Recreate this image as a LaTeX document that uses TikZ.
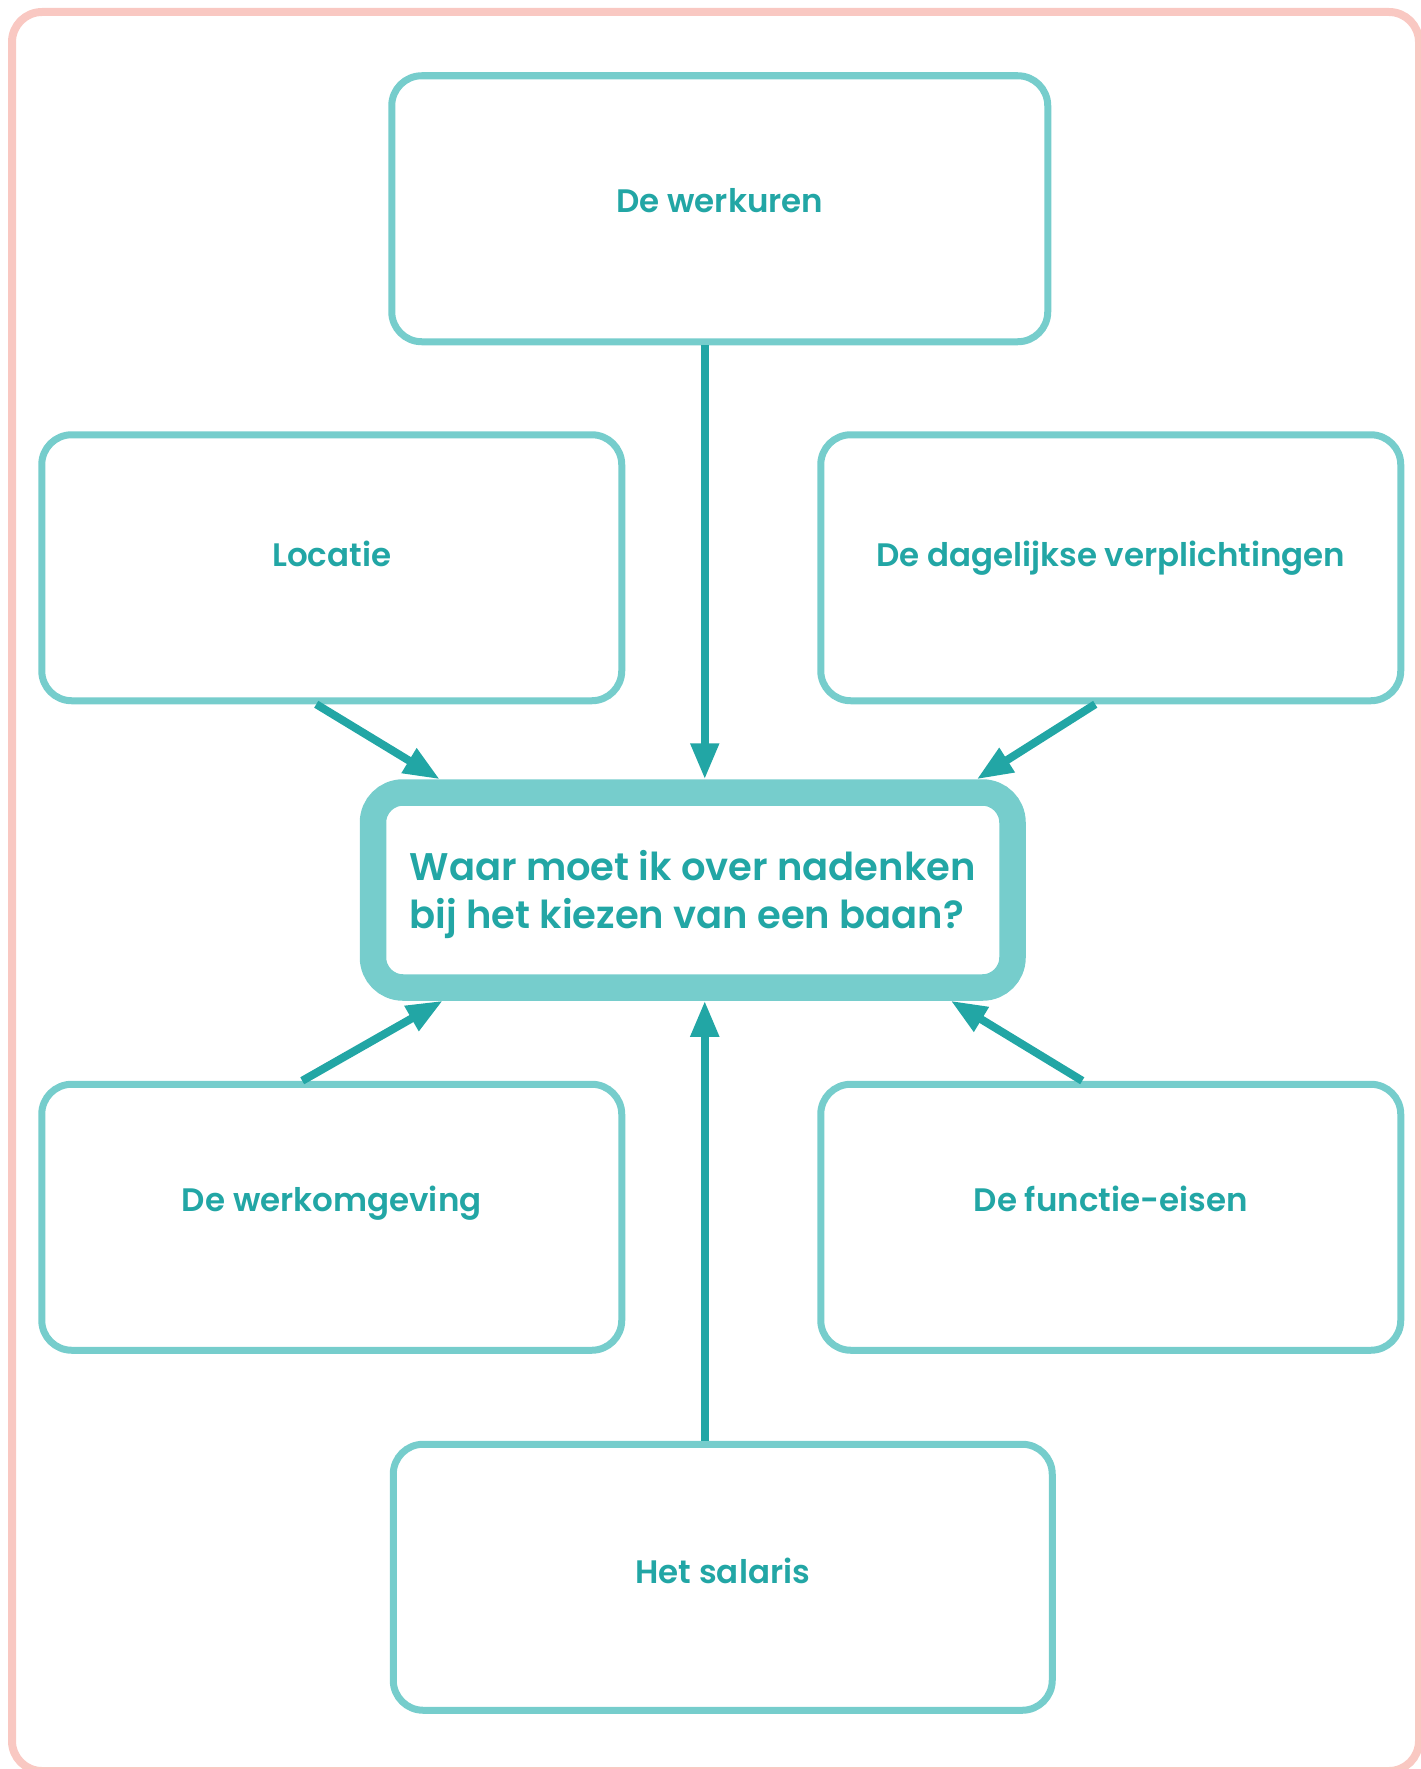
\documentclass[tikz,border=0pt]{standalone}
\usepackage{fontspec}
\setmainfont{Poppins}[BoldFont={Poppins SemiBold}]
\usetikzlibrary{arrows.meta}
\usetikzlibrary{positioning}
\definecolor{boxline}{HTML}{76CDCC}
\definecolor{tealdark}{HTML}{22A6A5}
\definecolor{framepink}{HTML}{F9C8C2}
\tikzset{
    topic/.style={
           rectangle,
           rounded corners=30pt,
           draw=boxline, line width=7pt,
           minimum width=580pt,
           minimum height=266pt,
           text=tealdark,
           font=\bfseries\fontsize{32.5}{38}\selectfont,
           text height=23pt, text depth=25pt,
           },
    question/.style={
           rectangle,
           rounded corners=30pt,
           draw=boxline, line width=26.5pt,
           minimum width=639.5pt,
           minimum height=195pt,
           text=tealdark, align=left,
           font=\bfseries\fontsize{38.5}{48}\selectfont,
           },
    link/.style={->, color=tealdark, line width=8pt},
}
\begin{document}
\begin{tikzpicture}[x=1pt,y=-1pt,>={Triangle[length=36pt,width=27pt]}]
	\useasboundingbox (0,0) rectangle (1421,1769);
	\draw[framepink, line width=8pt, rounded corners=30pt] (12,12) rectangle (1419,1771);

	\node[question] (Q) at (692.75,890)
			{\rule{0pt}{39pt}Waar moet ik over nadenken\\bij het kiezen van een baan?};
	\node[topic,minimum width=656pt,text depth=16pt] (W) [above=434pt of Q, xshift=27pt] {De werkuren};
	\node[topic]         (L)  [above=75pt of Q, xshift=-361pt] {Locatie};
	\node[topic]         (D)  [above=75pt of Q, xshift=418pt]  {De dagelijkse verplichtingen};
	\node[topic,text depth=34pt] (WO) [below=80pt of Q, xshift=-361pt] {De werkomgeving};
	\node[topic,text depth=34pt] (F)  [below=80pt of Q, xshift=418pt]  {De functie-eisen};
	\node[topic,minimum width=659pt,text depth=11pt] (S) [below=440pt of Q, xshift=30pt] {Het salaris};

	\path[link] ([xshift=-15pt]W.south) edge ([xshift=-15pt]W.south |- Q.north);
	\path[link] ([xshift=-15.5pt]L.south) edge ([xshift=80pt]Q.north west);
	\path[link] ([xshift=-15.5pt]D.south) edge ([xshift=-49pt]Q.north east);

	\path[link] ([xshift=-29.5pt]WO.north) edge ([xshift=83pt]Q.south west);
	\path[link] ([xshift=-28.5pt]F.north) edge ([xshift=-75pt]Q.south east);
	\path[link] ([xshift=-18pt]S.north) edge ([xshift=-18pt]S.north |- Q.south);

\end{tikzpicture}
\end{document}
